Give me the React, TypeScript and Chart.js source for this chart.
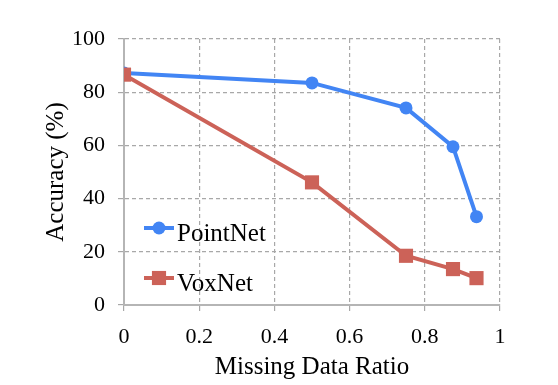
import React, { useEffect, useRef } from "react";
import { Chart, registerables } from "chart.js";

Chart.register(...registerables);

const missingRatio = [0, 0.5, 0.75, 0.875, 0.9375];
const pointNetAcc = [87.2, 83.5, 74.1, 59.5, 33.2];
const voxNetAcc = [86.6, 46.1, 18.5, 13.5, 10.1];
const seriesNames = ["PointNet", "VoxNet"];
const xTickValues = [0, 0.2, 0.4, 0.6, 0.8, 1];
const yTickValues = [0, 20, 40, 60, 80, 100];
const xTitle = "Missing Data Ratio";
const yTitle = "Accuracy (%)";

const BLUE = "rgb(66,133,244)";
const RED = "rgb(204,98,88)";
const FONT = "'Liberation Serif', 'Times New Roman', serif";

const legendPlugin = {
  id: "insideLegend",
  afterDraw(chart: any) {
    const { ctx, chartArea } = chart;
    const x0 = chartArea.left + 20;
    const rows = [
      { ds: chart.data.datasets[0], y: chartArea.top + 189 },
      { ds: chart.data.datasets[1], y: chartArea.top + 239 },
    ];
    ctx.save();
    rows.forEach((r) => {
      const ds = r.ds;
      ctx.strokeStyle = ds.borderColor;
      ctx.lineWidth = 4;
      ctx.beginPath();
      ctx.moveTo(x0, r.y);
      ctx.lineTo(x0 + 30, r.y);
      ctx.stroke();
      ctx.fillStyle = ds.backgroundColor;
      if (ds.pointStyle === "rect") {
        const s = ds.pointRadius * Math.SQRT1_2;
        ctx.fillRect(x0 + 15 - s, r.y - s, 2 * s, 2 * s);
      } else {
        ctx.beginPath();
        ctx.arc(x0 + 15, r.y, ds.pointRadius, 0, Math.PI * 2);
        ctx.fill();
      }
      ctx.fillStyle = "#000";
      ctx.font = `25px ${FONT}`;
      ctx.textBaseline = "alphabetic";
      ctx.textAlign = "left";
      ctx.fillText(ds.label, x0 + 33, r.y + 12.5);
    });
    ctx.restore();
  },
};

export default function App() {
  const ref = useRef<HTMLCanvasElement>(null);
  useEffect(() => {
    if (!ref.current) return;
    const gridColor = (c: any) => (c.tick && c.tick.value === 0 ? "rgba(0,0,0,0)" : "#A8A8A8");
    const chart = new Chart(ref.current, {
      type: "line",
      data: {
        datasets: [
          {
            label: seriesNames[0],
            data: missingRatio.map((x, i) => ({ x, y: pointNetAcc[i] })),
            borderColor: BLUE,
            backgroundColor: BLUE,
            borderWidth: 4,
            pointStyle: "circle",
            pointRadius: 6.5,
            pointBorderWidth: 0,
            order: 1,
          },
          {
            label: seriesNames[1],
            data: missingRatio.map((x, i) => ({ x, y: voxNetAcc[i] })),
            borderColor: RED,
            backgroundColor: RED,
            borderWidth: 4,
            pointStyle: "rect",
            pointRadius: 10,
            pointBorderWidth: 0,
            order: 0,
          },
        ] as any,
      },
      options: {
        animation: false,
        responsive: false,
        layout: { padding: { top: 39, right: 58, left: 0, bottom: 0 } },
        plugins: { legend: { display: false }, tooltip: { enabled: false } },
        scales: {
          x: {
            type: "linear",
            min: 0,
            max: 1,
            afterFit: (s: any) => { s.height = 80; },
            afterBuildTicks: (s: any) => { s.ticks = xTickValues.map((v) => ({ value: v })); },
            ticks: {
              color: "#000",
              font: { family: FONT, size: 22 },
              padding: 13,
              maxRotation: 0,
              callback: (v: any) => String(v),
            },
            grid: {
              color: gridColor,
              lineWidth: 1.2,
              tickColor: "#A8A8A8",
              tickLength: 6,
              tickBorderDash: [],
              drawTicks: true,
            } as any,
            border: { display: true, color: "#B5B5B5", width: 2, dash: [4, 3] } as any,
            title: {
              display: true,
              text: xTitle,
              color: "#000",
              font: { family: FONT, size: 25 },
              padding: { top: 0, bottom: 3 },
            },
          },
          y: {
            min: 0,
            max: 100,
            afterFit: (s: any) => { s.width = 124; },
            afterBuildTicks: (s: any) => { s.ticks = yTickValues.map((v) => ({ value: v })); },
            ticks: {
              color: "#000",
              font: { family: FONT, size: 22 },
              padding: 13,
              callback: (v: any) => String(v),
            },
            grid: {
              color: gridColor,
              lineWidth: 1.2,
              tickColor: "#A8A8A8",
              tickLength: 6,
              tickBorderDash: [],
              drawTicks: true,
            } as any,
            border: { display: true, color: "#B5B5B5", width: 2, dash: [4, 3] } as any,
            title: {
              display: true,
              text: yTitle,
              color: "#000",
              font: { family: FONT, size: 25 },
              padding: { top: 41, bottom: 0 },
            },
          },
        },
      } as any,
      plugins: [legendPlugin],
    });
    return () => chart.destroy();
  }, []);
  return (
    <div style={{ position: "fixed", left: 0, top: 0, width: 558, height: 385, background: "#fff" }}>
      <canvas ref={ref} width={558} height={385} style={{ width: 558, height: 385 }} />
    </div>
  );
}
